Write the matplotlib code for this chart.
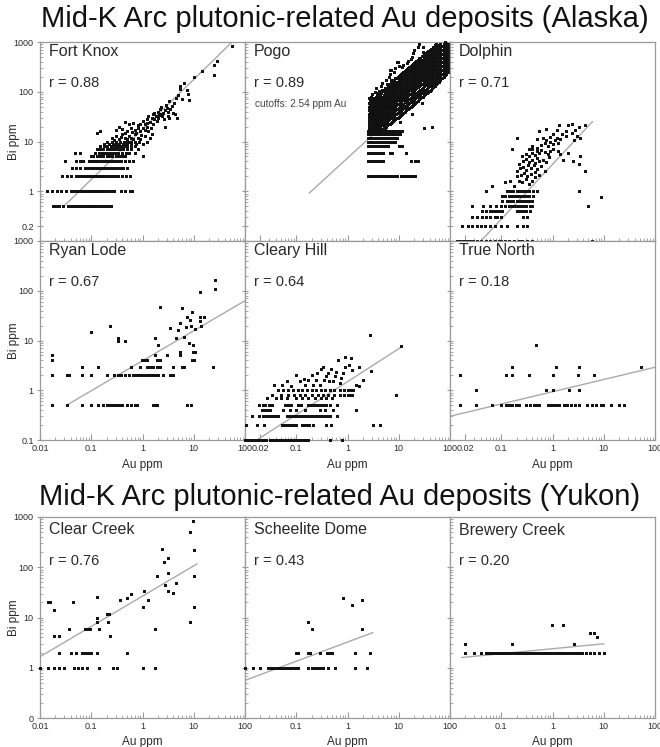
import matplotlib
matplotlib.use("Agg")
import matplotlib.pyplot as plt
from matplotlib.ticker import FixedLocator, FixedFormatter, LogLocator, NullFormatter

plt.rcParams['font.family'] = ['Liberation Sans', 'DejaVu Sans']

# ---------------- titles / labels ----------------
title_alaska = "Mid-K Arc plutonic-related Au deposits (Alaska)"
title_yukon = "Mid-K Arc plutonic-related Au deposits (Yukon)"
x_label = "Au ppm"
y_label = "Bi ppm"

# ---------------- Fort Knox ----------------
fk_bands = [
    (0.5, [0.018, 0.02, 0.022, 0.024, 0.028, 0.035, 0.04, 0.045, 0.05, 0.055, 0.06, 0.066, 0.075,
           0.085, 0.1, 0.11, 0.12, 0.135, 0.15, 0.17, 0.19, 0.21, 0.24]),
    (1, [0.014, 0.017, 0.021, 0.026, 0.032, 0.04, 0.045, 0.05, 0.055, 0.06, 0.065, 0.07, 0.075, 0.08,
         0.09, 0.1, 0.11, 0.12, 0.13, 0.14, 0.16, 0.18, 0.2, 0.22, 0.25, 0.28, 0.38, 0.46, 0.56, 0.63]),
    (2, [0.027, 0.033, 0.04, 0.05, 0.055, 0.06, 0.065, 0.07, 0.075, 0.08, 0.085, 0.09, 0.1, 0.11, 0.12,
         0.13, 0.14, 0.15, 0.17, 0.19, 0.21, 0.24, 0.27, 0.3, 0.34, 0.4, 0.48, 0.56]),
    (3, [0.042, 0.05, 0.06, 0.075, 0.085, 0.1, 0.11, 0.12, 0.13, 0.14, 0.16, 0.18, 0.2, 0.22, 0.25,
         0.28, 0.32, 0.36, 0.42, 0.5]),
    (4, [0.031, 0.05, 0.06, 0.07, 0.09, 0.1, 0.11, 0.12, 0.13, 0.15, 0.17, 0.19, 0.21, 0.24, 0.27,
         0.3, 0.34, 0.38, 0.45, 0.55, 0.65]),
    (5, [0.1, 0.11, 0.13, 0.15, 0.17, 0.2, 0.22, 0.25, 0.3, 0.35, 0.4, 0.45]),
    (6, [0.048, 0.12, 0.14, 0.16, 0.18, 0.2, 0.23, 0.26, 0.3, 0.34, 0.4, 0.47, 0.55, 0.7]),
    (7, [0.13, 0.15, 0.17, 0.2, 0.22, 0.25, 0.28, 0.32, 0.36, 0.42, 0.5, 0.6, 0.8]),
    (8, [0.15, 0.18, 0.2, 0.24, 0.27, 0.3, 0.35, 0.4, 0.45, 0.5, 0.6, 0.7]),
    (9, [0.18, 0.22, 0.26, 0.3, 0.35, 0.42, 0.5, 0.6, 0.75]),
    (10, [0.2, 0.25, 0.3, 0.36, 0.43, 0.5, 0.6, 0.7, 0.85]),
]
fk_points = [
    (0.06, 6), (0.13, 15), (0.15, 16), (0.45, 25), (1.0, 5), (2.8, 20),
    (0.25, 12), (0.3, 13), (0.35, 11), (0.4, 14), (0.45, 12), (0.5, 11), (0.55, 13), (0.6, 12),
    (0.7, 14), (0.8, 12), (0.3, 17), (0.4, 18), (0.5, 16), (0.6, 19), (0.7, 17), (0.9, 16),
    (1.0, 19), (0.35, 20), (0.55, 22), (0.65, 24), (0.8, 21), (0.9, 23), (1.1, 22), (1.2, 20),
    (1.0, 26), (1.2, 28), (1.4, 25), (1.5, 30), (1.3, 33), (1.6, 35), (1.8, 32), (2.0, 30),
    (1.7, 38), (2.0, 40), (2.2, 36), (2.4, 33), (2.5, 38), (2.7, 42), (2.2, 45), (3.0, 48),
    (3.2, 40), (3.5, 45), (2.6, 28), (1.6, 22), (1.9, 26), (0.9, 11), (1.1, 13), (1.3, 16),
    (0.75, 9), (0.85, 10), (1.0, 9), (1.2, 10), (1.4, 12), (1.5, 14), (0.65, 11), (0.45, 9.5),
    (3.8, 52), (4.2, 60), (4.0, 38), (4.8, 30), (2.9, 55), (3.3, 30), (4.5, 75), (5.0, 85),
    (5.3, 115), (6.0, 70), (7.3, 110), (7.6, 90), (8.0, 68), (3.3, 65), (4.3, 35), (3.1, 33),
    (5.5, 130), (6.5, 150), (10, 195), (14.5, 260), (25, 220), (25, 340), (28, 420), (55, 850),
    (0.28, 10.5), (0.38, 12.5), (0.55, 10), (0.75, 15), (1.1, 17), (0.95, 13.5), (1.7, 28),
    (2.1, 34), (1.25, 24), (0.45, 15), (0.62, 15.5), (0.8, 18.5), (1.45, 19), (2.3, 50),
]
fk_fit_au = [0.031, 56]
fk_fit_bi = [0.53, 1000]

# ---------------- Pogo ----------------
pogo_bands = [
    (2, [2.54, 2.7, 2.85, 3.0, 3.2, 3.4, 3.6, 3.8, 4.0, 4.3, 4.6, 4.9, 5.2, 5.6, 6.0, 6.5, 7.2, 7.8,
         8.5, 9.3, 11, 12, 13, 14.5, 16, 17.5, 19, 21]),
    (4, [2.54, 2.8, 3.1, 3.4, 3.7, 4.1, 4.6, 5.0, 17.5, 21, 24]),
    (6, [2.54, 2.75, 3.0, 3.2, 3.5, 3.8, 4.1, 4.5, 5.0, 6.8, 7.4, 14]),
    (8, [2.54, 2.7, 2.9, 3.1, 3.3, 3.6, 3.9, 4.2, 4.6, 5.0, 5.5, 6.2, 10]),
    (10, [2.54, 2.7, 2.9, 3.1, 3.3, 3.5, 3.8, 4.1, 4.4, 4.8, 5.2, 5.7, 6.3, 7.0, 7.8, 8.5]),
    (12, [2.54, 2.7, 2.9, 3.1, 3.3, 3.5, 3.8, 4.1, 4.4, 4.8, 5.2, 5.7, 6.3, 7.0, 7.8, 8.6, 9.4]),
    (14, [2.54, 2.7, 2.9, 3.1, 3.3, 3.5, 3.8, 4.1, 4.4, 4.8, 5.2, 5.7, 6.3, 7.0, 7.8, 8.6, 9.5, 10.5]),
    (16, [2.54, 2.7, 2.9, 3.1, 3.3, 3.5, 3.8, 4.1, 4.4, 4.8, 5.2, 5.7, 6.3, 7.0, 7.8, 8.6, 9.5, 10.5, 11.5]),
]
pogo_columns = [
    (2.6, [18, 20, 22, 25, 28, 32, 36, 42, 50, 60, 75]),
    (2.7, [19, 21, 23.5, 26.5, 30, 35, 39, 45, 52, 57]),
    (2.8, [18, 21, 24, 27, 30, 34, 40, 46, 55, 68]),
    (2.9, [20, 23, 26, 31, 35, 41, 48, 58, 80]),
    (3.0, [19, 22, 25, 29, 33, 38, 44, 52, 64, 90]),
    (3.15, [18.5, 21, 24, 28, 32, 37, 43, 50, 61, 75]),
    (3.3, [18, 20, 23, 27, 31, 36, 42, 48, 58, 70]),
    (3.45, [19.5, 23, 27, 32, 37, 44, 51, 62, 100]),
    (3.6, [19, 22, 26, 30, 35, 40, 47, 55, 66, 80, 120]),
    (3.8, [18, 20.5, 24, 28, 32, 37, 43, 50, 59, 70, 85]),
    (4.0, [18, 21, 25, 29, 34, 40, 46, 54, 63, 75, 95]),
    (4.2, [19, 22.5, 27, 31, 36, 42, 49, 57, 68, 82, 105]),
    (4.4, [20, 24, 28, 33, 38, 45, 52, 60, 72, 88]),
    (4.6, [18, 21, 25, 29, 35, 40, 47, 55, 64, 76, 95, 130]),
    (4.8, [17, 22, 26, 31, 36, 42, 50, 58, 68, 80, 110, 150]),
    (5.05, [20, 23, 27, 32, 38, 44, 52, 61, 72, 86, 104]),
    (5.3, [19, 24, 29, 34, 40, 47, 55, 65, 78, 92, 120]),
    (5.55, [20, 25, 30, 35, 42, 50, 58, 68, 80, 96, 115, 170]),
    (5.8, [21, 26, 31, 37, 44, 52, 61, 72, 85, 100, 140]),
    (6.1, [22, 27, 32, 38, 45, 54, 63, 74, 88, 105, 125]),
    (6.4, [22, 28, 34, 40, 48, 56, 66, 78, 92, 110, 130, 200]),
    (6.7, [23, 29, 35, 42, 50, 59, 70, 82, 97, 115, 140, 230]),
    (7.0, [24, 30, 36, 44, 52, 62, 73, 86, 100, 120, 150, 270]),
    (7.4, [25, 31, 38, 45, 54, 64, 76, 90, 106, 127, 160]),
    (7.8, [26, 32, 39, 47, 56, 67, 80, 95, 112, 135, 170]),
    (8.2, [27, 33, 41, 50, 59, 71, 84, 100, 118, 142, 175, 250]),
    (8.6, [28, 35, 43, 52, 62, 74, 88, 104, 125, 150, 190, 300]),
    (9.0, [29, 36, 44, 54, 64, 77, 91, 108, 130, 155, 190]),
    (9.5, [30, 38, 46, 56, 67, 80, 95, 113, 135, 160, 200, 400]),
    (10.0, [31, 39, 48, 58, 70, 84, 100, 119, 142, 170, 210, 330]),
    (10.5, [25, 33, 41, 50, 61, 73, 87, 104, 124, 148, 176, 220]),
    (11.0, [34, 42, 52, 63, 76, 91, 109, 130, 155, 185, 225]),
    (11.5, [36, 45, 55, 67, 80, 96, 115, 137, 164, 195, 240, 320]),
    (12.2, [38, 47, 58, 70, 84, 101, 121, 144, 172, 206, 250, 350]),
    (13, [40, 50, 61, 74, 89, 106, 127, 152, 182, 218, 260]),
    (13.7, [42, 52, 64, 77, 93, 111, 133, 160, 191, 229, 275]),
    (14.5, [44, 55, 67, 81, 98, 117, 140, 168, 200, 240, 290, 380]),
    (15.2, [46, 57, 70, 85, 102, 122, 146, 175, 209, 250, 300, 420]),
    (16, [48, 60, 73, 89, 107, 128, 153, 183, 219, 262, 314]),
    (17, [50, 62, 76, 92, 111, 133, 159, 190, 228, 272, 325, 450]),
    (18, [35, 52, 66, 80, 97, 117, 140, 168, 201, 240, 287, 343, 500]),
    (19, [55, 68, 83, 101, 122, 146, 175, 209, 250, 299, 357, 600]),
    (20, [58, 72, 88, 107, 129, 155, 186, 223, 267, 320, 383, 700]),
    (21, [60, 74, 91, 111, 134, 161, 193, 231, 276, 330, 395]),
    (22, [63, 78, 96, 117, 141, 170, 204, 245, 294, 352, 420]),
    (23.5, [66, 82, 100, 122, 147, 177, 213, 256, 307, 368, 440, 800]),
    (25, [70, 86, 105, 128, 155, 187, 225, 270, 324, 389, 466, 900]),
    (26.5, [74, 90, 110, 134, 162, 195, 235, 282, 339, 407, 488]),
    (28, [60, 78, 95, 116, 141, 171, 206, 248, 298, 358, 430, 515]),
    (29.5, [80, 98, 120, 146, 177, 213, 256, 308, 370, 444, 533, 640]),
    (31, [86, 105, 128, 155, 188, 227, 274, 329, 395, 474, 570]),
    (33, [90, 110, 134, 163, 197, 238, 287, 345, 414, 497, 596]),
    (35, [95, 116, 141, 171, 207, 250, 301, 362, 435, 522, 630]),
    (37.5, [100, 122, 148, 180, 218, 264, 318, 383, 460, 552, 660]),
    (40, [105, 128, 156, 190, 230, 278, 335, 403, 484, 582, 700]),
    (42.5, [110, 135, 164, 200, 242, 292, 352, 424, 510, 612, 735]),
    (45, [117, 142, 173, 210, 254, 307, 370, 445, 535, 640]),
    (47.5, [124, 150, 182, 221, 268, 324, 390, 470, 565, 680, 810]),
    (50, [130, 158, 192, 233, 282, 341, 411, 495, 595, 715, 860]),
    (53.5, [140, 170, 206, 250, 303, 366, 441, 531, 640, 770, 925]),
    (57, [150, 182, 221, 268, 325, 393, 474, 570, 686, 825]),
    (61, [160, 194, 235, 285, 345, 418, 504, 607, 730, 880]),
    (65, [170, 206, 250, 303, 367, 444, 536, 645, 776, 930]),
    (70, [185, 224, 271, 328, 397, 480, 580, 698, 840]),
    (75, [200, 242, 293, 355, 430, 520, 627, 755, 910]),
    (80, [215, 260, 315, 382, 462, 560, 675, 815, 980]),
    (85, [230, 280, 340, 410, 495, 600, 720, 870]),
    (90, [250, 305, 370, 445, 538, 650, 785, 950]),
    (95, [270, 330, 400, 480, 580, 700, 850]),
]
pogo_points = [(6.8, 275), (9.2, 400), (7.2, 175), (30, 800), (17, 330), (44, 20), (11.5, 8), (31, 19)]
pogo_fit_au = [0.18, 100]
pogo_fit_bi = [0.92, 360]

# ---------------- Dolphin ----------------
dol_bands = [
    (0.1, [0.0138, 0.016, 0.018, 0.02, 0.022, 0.025, 0.028, 0.033, 0.04, 0.05, 0.06, 0.075, 0.09,
           0.1, 0.12, 0.14, 0.18, 0.22, 0.25, 0.32, 0.4, 5.9]),
    (0.2, [0.0174, 0.022, 0.027, 0.034, 0.04, 0.048, 0.06, 0.075, 0.1, 0.13, 0.2, 0.26, 0.32]),
    (0.3, [0.027, 0.034, 0.043, 0.05, 0.06, 0.075, 0.083, 0.1, 0.26, 0.32]),
    (0.4, [0.043, 0.05, 0.06, 0.067, 0.075, 0.083, 0.095, 0.105, 0.2, 0.23, 0.26, 0.3, 0.36]),
    (0.5, [0.027, 0.045, 0.06, 0.08, 0.1, 0.12, 0.14, 0.16, 0.18, 0.2, 0.23, 0.26, 0.3, 0.36, 0.4]),
    (0.65, [0.105, 0.13, 0.15, 0.17, 0.2, 0.23, 0.26, 0.3, 0.35, 0.4]),
    (0.8, [0.105, 0.12, 0.14, 0.16, 0.18, 0.2, 0.23, 0.26, 0.3, 0.35, 0.42]),
    (1, [0.05, 0.13, 0.15, 0.17, 0.2, 0.23, 0.26, 0.3, 0.35, 0.42, 0.5]),
]
dol_points = [
    (0.067, 1.3), (0.12, 1.5), (0.15, 1.6), (0.18, 1.3), (0.22, 1.6), (0.25, 1.5), (0.3, 1.8),
    (0.35, 1.4), (0.4, 1.6), (0.45, 1.9), (0.2, 2.0), (0.24, 2.1), (0.28, 2.3), (0.32, 2.0),
    (0.38, 2.2), (0.45, 2.4), (0.55, 2.1), (0.2, 2.6), (0.23, 2.9), (0.27, 3.1), (0.3, 2.7),
    (0.33, 3.4), (0.38, 3.0), (0.43, 3.3), (0.5, 2.8), (0.6, 3.2), (0.7, 2.6), (0.22, 3.6),
    (0.26, 4.0), (0.3, 4.4), (0.35, 3.9), (0.4, 4.2), (0.45, 3.7), (0.5, 4.6), (0.55, 4.0),
    (0.65, 4.3), (0.75, 3.8), (0.85, 4.9), (0.25, 5.0), (0.3, 5.6), (0.35, 5.2), (0.4, 6.0),
    (0.45, 5.4), (0.5, 6.3), (0.55, 5.8), (0.6, 6.8), (0.7, 6.2), (0.8, 5.5), (0.9, 6.5),
    (1.0, 7.2), (0.35, 7.0), (0.4, 8.0), (0.5, 7.5), (0.6, 8.5), (0.7, 9.2), (0.8, 8.0),
    (0.9, 9.8), (1.0, 8.8), (1.1, 10.5), (1.3, 9.5), (0.5, 11), (0.65, 12), (0.75, 10.5),
    (0.9, 12.5), (1.0, 14), (1.2, 12), (1.4, 11), (1.5, 14), (1.8, 13), (0.4, 7), (0.165, 7),
    (0.2, 12), (0.55, 16), (0.75, 18), (1.2, 17), (1.8, 16), (2.4, 15), (2.8, 17), (1.35, 21),
    (2.0, 21), (2.4, 23), (3.3, 20), (4.4, 21), (3.0, 13), (2.6, 10.5), (3.5, 12), (1.4, 5.5),
    (1.6, 4.2), (2.0, 6.0), (2.5, 4.0), (3.3, 1.0), (3.3, 3.6), (4.3, 2.6), (5.0, 0.5),
    (8.8, 0.75), (3.5, 5.0), (1.3, 6.5),
]
dol_fit_au = [0.04, 6]
dol_fit_bi = [0.1, 25]

# ---------------- Ryan Lode ----------------
ryan_bands = [
    (0.5, [0.017, 0.033, 0.065, 0.1, 0.137, 0.17, 0.2, 0.23, 0.26, 0.29, 0.33, 0.36, 0.4, 0.49, 0.6,
           0.7, 0.77, 1.6, 1.75, 1.9, 7.3, 9]),
    (2, [0.017, 0.033, 0.036, 0.065, 0.1, 0.2, 0.28, 0.34, 0.38, 0.45, 0.55, 0.64, 0.73, 0.82, 0.95,
         1.05, 1.2, 1.35, 1.55, 1.75, 2.0, 2.5, 3.4, 3.7, 4.0]),
    (3, [0.065, 0.137, 0.6, 0.9, 1.2, 1.4, 1.6, 1.9, 2.2, 4.0, 6.0, 6.5, 24]),
    (4, [0.017, 0.96, 1.05, 1.2, 1.9, 2.2, 9.1, 10]),
]
ryan_points = [
    (0.017, 5), (0.1, 15), (0.23, 20), (0.34, 11), (0.34, 10), (0.45, 10), (1.75, 5), (1.75, 11),
    (2.0, 8), (2.2, 47), (3.0, 5), (3.4, 18), (4.5, 11), (5.0, 16), (5.4, 22), (5.8, 44),
    (5.4, 6), (5.4, 5), (6.5, 12), (7.0, 19), (7.3, 30), (8.0, 9), (8.5, 26), (8.8, 20),
    (9.1, 37), (9.5, 8), (9.5, 6), (10.5, 17), (10.5, 6), (13, 95), (13, 25), (13, 30),
    (14, 20), (16, 30), (24, 3), (26, 165), (26, 107),
]
ryan_fit_au = [0.033, 100]
ryan_fit_bi = [0.5, 63]

# ---------------- Cleary Hill ----------------
cle_bands = [
    (0.1, [0.0102, 0.011, 0.012, 0.013, 0.014, 0.015, 0.016, 0.017, 0.018, 0.019, 0.02, 0.022,
           0.024, 0.026, 0.031, 0.034, 0.037, 0.04, 0.044, 0.048, 0.052, 0.057, 0.062, 0.068,
           0.074, 0.08, 0.088, 0.096, 0.105, 0.115, 0.125, 0.14, 0.155, 0.17, 0.46, 0.77]),
    (0.2, [0.0105, 0.0175, 0.023, 0.052, 0.058, 0.065, 0.072, 0.08, 0.09, 0.1, 0.128, 0.14, 0.16,
           0.18, 0.21, 0.38, 0.47, 3.1, 4.4]),
    (0.3, [0.014, 0.019, 0.022, 0.025, 0.028, 0.032, 0.036, 0.04, 0.045, 0.065, 0.075, 0.085, 0.095,
           0.11, 0.125, 0.14, 0.16, 0.185, 0.21, 0.24, 0.27, 0.31, 0.35, 0.4, 0.46, 0.62]),
    (0.4, [0.021, 0.024, 0.027, 0.031, 0.056, 0.075, 0.1, 0.145, 0.29, 0.36, 0.53, 1.45]),
    (0.5, [0.019, 0.022, 0.025, 0.029, 0.033, 0.06, 0.07, 0.08, 0.11, 0.125, 0.17, 0.19, 0.22, 0.25,
           0.29, 0.33, 0.38, 0.46, 0.62]),
    (0.7, [0.027, 0.04, 0.05, 0.065, 0.1, 0.13, 0.17, 0.23, 0.3, 0.38, 0.5]),
    (0.8, [0.033, 0.05, 0.07, 0.09, 0.12, 0.15, 0.2, 0.26, 0.33, 0.42, 0.55, 0.7, 0.85, 1.0, 1.1,
           1.25, 9]),
    (1, [0.045, 0.055, 0.07, 0.085, 0.11, 0.13, 0.16, 0.2, 0.24, 0.3, 0.36, 0.45, 0.55, 0.7, 0.85,
         1.0, 1.15, 1.3]),
]
cle_points = [
    (0.037, 1.3), (0.052, 1.3), (0.065, 1.5), (0.08, 1.2), (0.1, 2), (0.12, 1.5), (0.145, 1.3),
    (0.17, 1.6), (0.21, 1.3), (0.24, 1.6), (0.29, 1.3), (0.31, 2.7), (0.33, 2.9), (0.38, 1.9),
    (0.44, 1.5), (0.47, 2.7), (0.53, 1.5), (0.56, 1.9), (0.6, 2.3), (0.66, 4), (0.83, 2.2),
    (0.89, 4.6), (0.89, 3), (1.05, 3.2), (1.15, 4.4), (1.2, 2.5), (1.7, 2.9), (1.45, 1.3),
    (1.7, 1.2), (2.0, 1.6), (2.8, 13), (2.9, 2.4), (11, 7.6), (0.2, 2.0), (0.25, 2.2),
    (0.14, 1.7), (0.35, 1.6), (0.42, 2.2), (0.7, 1.4), (0.75, 1.8),
]
cle_fit_au = [0.017, 11.5]
cle_fit_bi = [0.1, 7.5]

# ---------------- True North ----------------
tn_bands = [
    (0.5, [0.016, 0.032, 0.067, 0.098, 0.123, 0.142, 0.165, 0.19, 0.22, 0.3, 0.37, 0.43, 0.5, 0.55,
           0.8, 0.92, 1.0, 1.15, 1.35, 1.65, 1.95, 2.3, 2.7, 3.3, 4.8, 6.0, 7.0, 8.8, 9.5, 13.8,
           20, 25]),
    (1, [0.032, 0.74, 1.0, 2.1, 3.3]),
    (2, [0.016, 0.123, 0.165, 0.35, 1.0, 3.1, 6.5]),
    (3, [0.165, 1.16, 3.3, 53]),
    (8, [0.47]),
]
tn_fit_au = [0.01, 100]
tn_fit_bi = [0.3, 2.9]

# ---------------- Clear Creek ----------------
cc_bands = [
    (1, [0.01, 0.0145, 0.019, 0.024, 0.029, 0.047, 0.056, 0.065, 0.081, 0.14, 0.26, 0.32, 1.0, 1.74]),
    (2, [0.024, 0.04, 0.05, 0.065, 0.075, 0.086, 0.1, 0.128, 0.49]),
]
cc_points = [
    (0.0145, 20), (0.016, 20), (0.019, 14), (0.019, 4.2), (0.024, 4.2), (0.036, 6), (0.045, 20),
    (0.075, 6), (0.085, 6), (0.095, 6), (0.128, 10), (0.128, 8), (0.13, 26), (0.14, 6),
    (0.2, 12), (0.22, 12), (0.21, 8), (0.23, 4.2), (0.36, 22), (0.49, 24), (0.61, 30),
    (1.0, 16), (1.05, 34), (1.3, 22), (1.74, 6), (1.9, 67), (2.4, 228), (2.6, 129), (3.2, 150),
    (2.7, 45), (3.2, 78), (3.2, 34), (4.0, 31), (4.6, 49), (8.5, 510), (9.8, 840), (9.9, 220),
    (10, 67), (10, 16), (8.5, 8),
]
cc_fit_au = [0.01, 11.5]
cc_fit_bi = [1.66, 116]

# ---------------- Scheelite Dome ----------------
sd_bands = [
    (1, [0.01, 0.0145, 0.0196, 0.028, 0.032, 0.035, 0.038, 0.042, 0.046, 0.05, 0.055, 0.06, 0.065,
         0.07, 0.075, 0.08, 0.09, 0.1, 0.108, 0.17, 0.2, 0.22, 0.25, 0.28, 0.3, 0.34, 0.41, 0.57,
         1.4, 2.4]),
    (2, [0.1, 0.108, 0.17, 0.185, 0.29, 0.39, 0.45, 0.5, 1.4, 2.7]),
]
sd_points = [(0.17, 8), (0.2, 6), (0.81, 24), (1.2, 18), (1.9, 22), (1.9, 6)]
sd_fit_au = [0.01, 3.1]
sd_fit_bi = [0.56, 5.0]

# ---------------- Brewery Creek ----------------
bc_bands = [
    (2, [0.0196, 0.029, 0.04, 0.05, 0.056, 0.062, 0.068, 0.075, 0.082, 0.09, 0.1, 0.11, 0.12, 0.13,
         0.15, 0.17, 0.19, 0.21, 0.24, 0.27, 0.3, 0.34, 0.38, 0.43, 0.48, 0.54, 0.6, 0.68, 0.76,
         0.85, 0.95, 1.05, 1.2, 1.35, 1.5, 1.7, 1.9, 2.1, 2.4, 2.7, 3.0, 3.4, 3.8, 4.5, 5.5,
         6.4, 8.1, 10]),
    (3, [0.0196, 0.165, 2.6]),
    (4, [7.4]),
    (5, [5.5, 6.4]),
    (7, [0.98, 1.6]),
]
bc_fit_au = [0.017, 10]
bc_fit_bi = [1.6, 3.0]

# ---------------- panel list ----------------
panels = [
    # name, r, bands, points, columns, fit_au, fit_bi, group, row, col
    ("Fort Knox", "r = 0.88", fk_bands, fk_points, [], fk_fit_au, fk_fit_bi, 0, 0, 0),
    ("Pogo", "r = 0.89", pogo_bands, pogo_points, pogo_columns, pogo_fit_au, pogo_fit_bi, 0, 0, 1),
    ("Dolphin", "r = 0.71", dol_bands, dol_points, [], dol_fit_au, dol_fit_bi, 0, 0, 2),
    ("Ryan Lode", "r = 0.67", ryan_bands, ryan_points, [], ryan_fit_au, ryan_fit_bi, 0, 1, 0),
    ("Cleary Hill", "r = 0.64", cle_bands, cle_points, [], cle_fit_au, cle_fit_bi, 0, 1, 1),
    ("True North", "r = 0.18", tn_bands, [], [], tn_fit_au, tn_fit_bi, 0, 1, 2),
    ("Clear Creek", "r = 0.76", cc_bands, cc_points, [], cc_fit_au, cc_fit_bi, 1, 0, 0),
    ("Scheelite Dome", "r = 0.43", sd_bands, sd_points, [], sd_fit_au, sd_fit_bi, 1, 0, 1),
    ("Brewery Creek", "r = 0.20", bc_bands, [], [], bc_fit_au, bc_fit_bi, 1, 0, 2),
]
pogo_note = "cutoffs: 2.54 ppm Au"

# ---------------- figure ----------------
W, H = 660, 747
fig = plt.figure(figsize=(W / 100, H / 100), dpi=100)
fig.patch.set_facecolor("white")

col_left = [40, 245, 450]
col_w = 205
top_rows = [(42, 199), (241, 199)]
bot_row = (517, 201)

spine_c = "#9a9a9a"
text_c = "#2a2a2a"
fit_c = "#aaaaaa"


def add_ax(left, top, w, h):
    return fig.add_axes([left / W, 1 - (top + h) / H, w / W, h / H])


for name, rtxt, bands, pts, cols, fau, fbi, grp, row, col in panels:
    if grp == 0:
        top, h = top_rows[row]
    else:
        top, h = bot_row
    ax = add_ax(col_left[col], top, col_w, h)
    ax.set_xscale("log")
    ax.set_yscale("log")
    ax.set_xlim(0.01, 100)
    ax.set_ylim(0.1, 1000)

    au, bi = [], []
    for lvl, xs in bands:
        au += list(xs)
        bi += [lvl] * len(xs)
    for x, y in pts:
        au.append(x)
        bi.append(y)
    for x, ys in cols:
        au += [x] * len(ys)
        bi += list(ys)

    ax.plot(fau, fbi, color=fit_c, lw=1.0, zorder=2)
    sc = ax.scatter(au, bi, s=4.6, marker="s", c="#111111", linewidths=0, zorder=3, clip_on=False)
    sc.set_snap(False)

    for sp in ax.spines.values():
        sp.set_color(spine_c)
        sp.set_linewidth(0.9)

    ax.xaxis.set_minor_locator(LogLocator(base=10, subs=range(2, 10), numticks=20))
    ax.yaxis.set_minor_locator(LogLocator(base=10, subs=range(2, 10), numticks=20))
    ax.xaxis.set_minor_formatter(NullFormatter())
    ax.yaxis.set_minor_formatter(NullFormatter())
    ax.tick_params(axis="x", which="major", direction="in", length=4, color=spine_c,
                   labelsize=6.5, labelcolor=text_c, pad=3)
    ax.tick_params(axis="x", which="minor", direction="in", length=2.2, color=spine_c)
    ax.tick_params(axis="y", which="major", direction="inout", length=5, color=spine_c,
                   labelsize=6.5, labelcolor=text_c, pad=2)
    ax.tick_params(axis="y", which="minor", direction="in", length=2.2, color=spine_c)

    # y ticks
    if grp == 0 and row == 0:
        yt = [0.2, 1, 10, 100, 1000]
        yl = ["0.2", "1", "10", "100", "1000"]
    elif grp == 0:
        yt = [0.1, 1, 10, 100, 1000]
        yl = ["0.1", "1", "10", "100", "1000"]
    else:
        yt = [0.1, 1, 10, 100, 1000]
        yl = ["0", "1", "10", "100", "1000"]
    ax.yaxis.set_major_locator(FixedLocator(yt))
    ax.yaxis.set_major_formatter(FixedFormatter(yl if col == 0 else [""] * len(yl)))

    # x ticks
    if grp == 0 and col > 0:
        xt = [0.02, 0.1, 1, 10, 100]
        xl = ["0.02", "0.1", "1", "10", "100"]
    elif grp == 1 and col > 0:
        xt = [0.01, 0.1, 1, 10, 100]
        xl = ["", "0.1", "1", "10", "100"]
    else:
        xt = [0.01, 0.1, 1, 10, 100]
        xl = ["0.01", "0.1", "1", "10", "100"]
    ax.xaxis.set_major_locator(FixedLocator(xt))
    show_x = (grp == 0 and row == 1) or grp == 1
    ax.xaxis.set_major_formatter(FixedFormatter(xl if show_x else [""] * len(xl)))

    if grp == 0:
        ny, ry = 1 - 9.5 / h, 1 - 41 / h
    else:
        ny, ry = 1 - 13 / h, 1 - 44 / h
    ax.text(9 / col_w, ny, name, transform=ax.transAxes, ha="left", va="center",
            fontsize=11.5, color=text_c)
    ax.text(9 / col_w, ry, rtxt, transform=ax.transAxes, ha="left", va="center",
            fontsize=10.5, color=text_c)
    if name == "Pogo":
        ax.text(10 / col_w, 1 - 62 / h, pogo_note, transform=ax.transAxes, ha="left",
                va="center", fontsize=7.2, color="#444444")

# titles
fig.text(345 / W, 1 - 19 / H, title_alaska, ha="center", va="center", fontsize=21, color="#111111")
fig.text(340 / W, 1 - 497 / H, title_yukon, ha="center", va="center", fontsize=21, color="#111111")

# axis labels
for top, h in top_rows + [bot_row]:
    fig.text(14 / W, 1 - (top + h / 2) / H, y_label, rotation=90, ha="center", va="center",
             fontsize=8.5, color=text_c)
for cl in col_left:
    cx = (cl + col_w / 2) / W
    fig.text(cx, 1 - 465 / H, x_label, ha="center", va="center", fontsize=8.5, color=text_c)
    fig.text(cx, 1 - 742 / H, x_label, ha="center", va="center", fontsize=8.5, color=text_c)

fig.savefig("out.png", dpi=100, facecolor="white")
